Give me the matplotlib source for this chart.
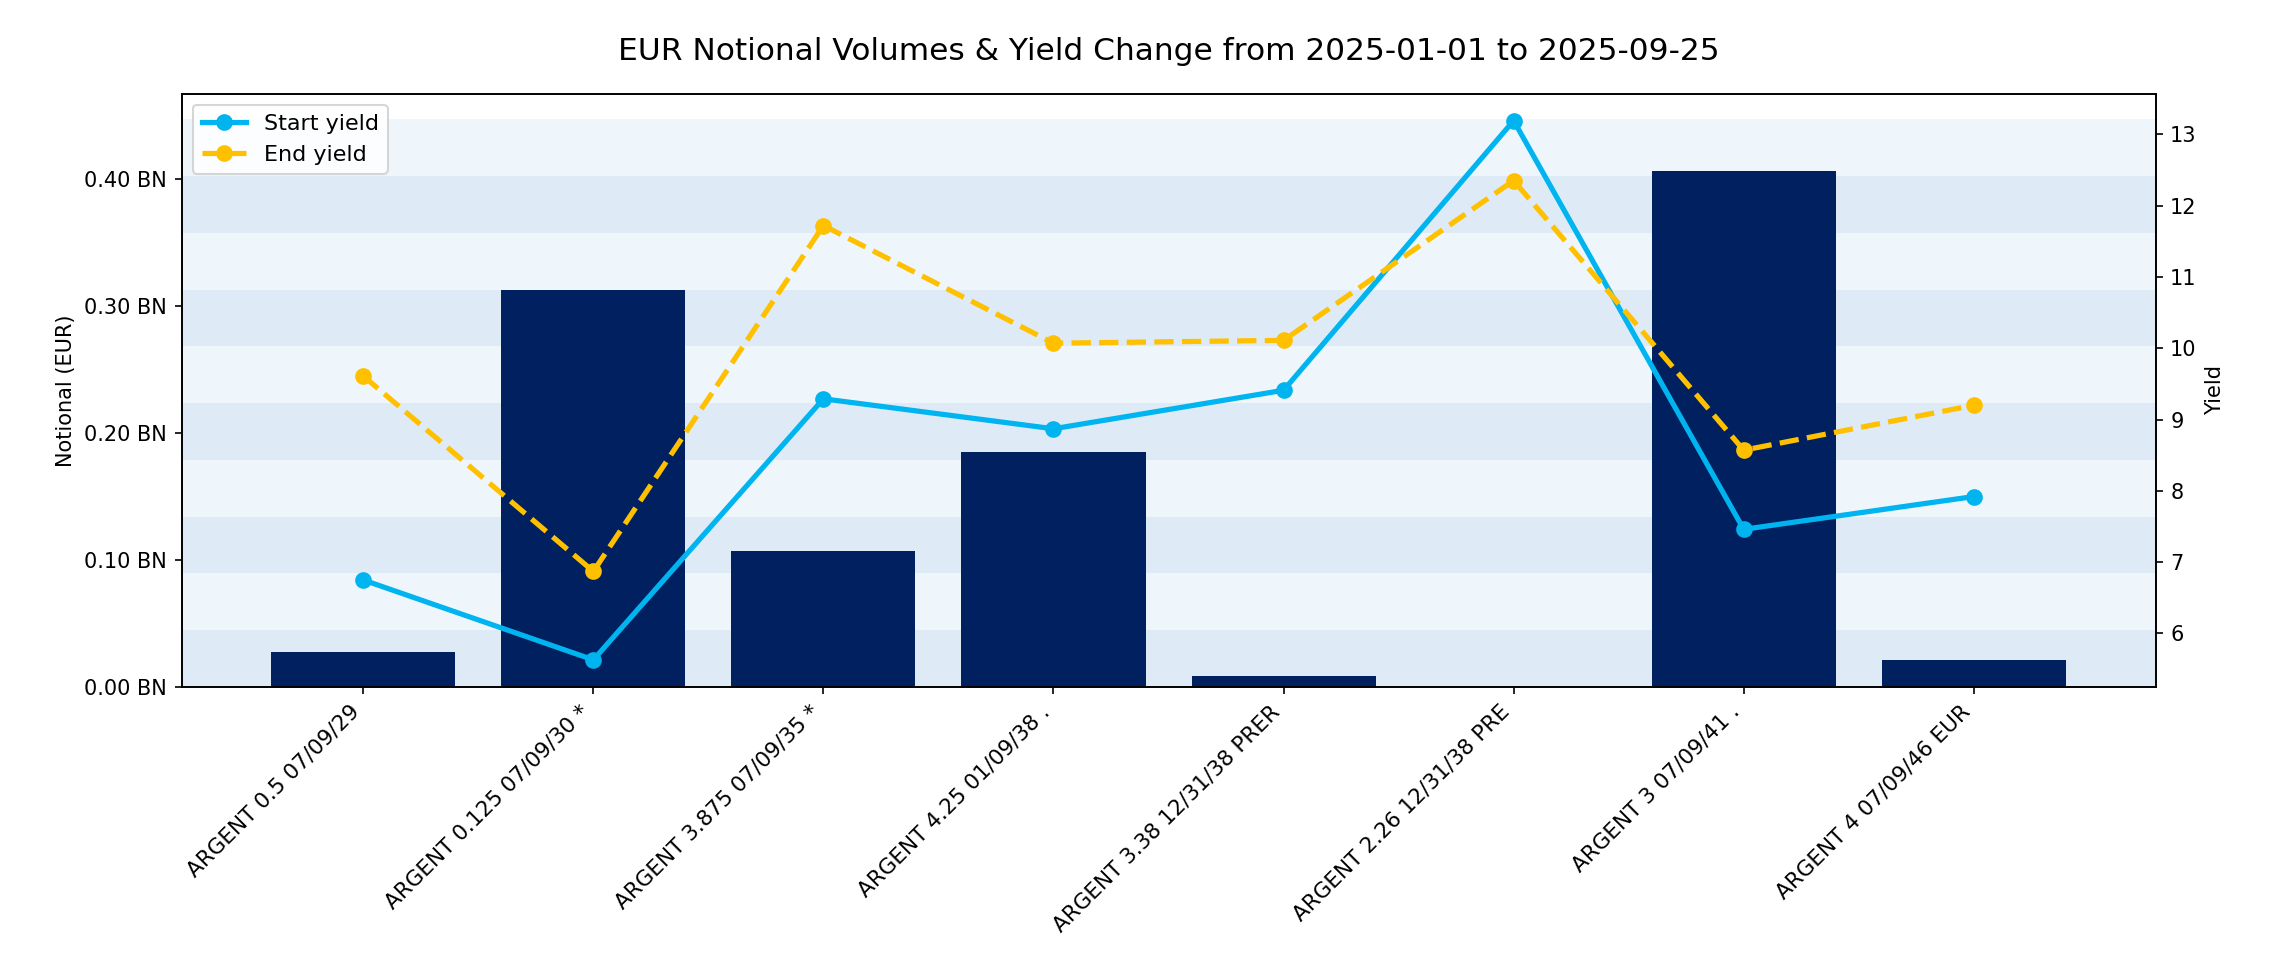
import numpy as np
import matplotlib
matplotlib.use('Agg')
import matplotlib.pyplot as plt
from matplotlib.ticker import FuncFormatter

# Данные: облигации, объёмы (EUR) и доходности
bonds = [
    'ARGENT 0.5 07/09/29',
    'ARGENT 0.125 07/09/30 *',
    'ARGENT 3.875 07/09/35 *',
    'ARGENT 4.25 01/09/38 .',
    'ARGENT 3.38 12/31/38 PRER',
    'ARGENT 2.26 12/31/38 PRE',
    'ARGENT 3 07/09/41 .',
    'ARGENT 4 07/09/46 EUR',
]
notional = [0.0272e9, 0.3125e9, 0.107e9, 0.185e9, 0.0084e9, 0.0, 0.406e9, 0.021e9]
start_yield = [6.75, 5.63, 9.29, 8.87, 9.41, 13.19, 7.46, 7.92]
end_yield = [9.61, 6.87, 11.72, 10.07, 10.11, 12.35, 8.57, 9.20]

x = np.arange(len(bonds))

fig, ax = plt.subplots(figsize=(2269 / 150, 966 / 150), dpi=150)
fig.subplots_adjust(left=0.080, right=0.950, top=0.903, bottom=0.289)

# Полосатый фон
top = max(notional) * 1.1
edges = np.linspace(0, top, 11)
for i in range(10):
    color = '#deebf7' if i % 2 == 0 else '#eef6fc'
    ax.axhspan(edges[i], edges[i + 1], color=color, zorder=0, linewidth=0)

ax.bar(x, notional, width=0.8, color='#002060', zorder=2)
ax.set_ylim(0, max(notional) * 1.15)
ax.yaxis.set_major_formatter(FuncFormatter(lambda v, p: f'{v / 1e9:.2f} BN'))
ax.set_ylabel('Notional (EUR)')
ax.set_xticks(x)
ax.set_xticklabels(bonds, rotation=45, ha='right', fontsize=10.3)

# Доходности на второй оси
ax2 = ax.twinx()
ax2.plot(x, start_yield, color='#00b4f0', marker='o', linewidth=2.5,
         markersize=7, label='Start yield')
ax2.plot(x, end_yield, color='#ffc000', marker='o', linestyle='--',
         linewidth=2.5, markersize=7, label='End yield')
ax2.set_ylabel('Yield')
ax2.legend(loc='upper left', fontsize=10.7)

ax.set_title('EUR Notional Volumes & Yield Change from 2025-01-01 to 2025-09-25',
             fontsize=15, pad=16)

fig.savefig('out.png', dpi=150)
